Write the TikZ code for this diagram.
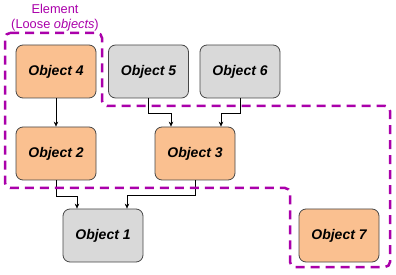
\documentclass[tikz,border=0pt]{standalone}
\usepackage{fontspec}
\setmainfont{Liberation Sans}
\usetikzlibrary{arrows.meta,calc}
\definecolor{orangefill}{RGB}{250,192,144}
\definecolor{grayfill}{RGB}{217,217,217}
\definecolor{magentaline}{RGB}{170,0,170}
\begin{document}
\begin{tikzpicture}[x=1pt,y=-1pt,
 obj/.style={draw=black!72, line width=0.8pt, rounded corners=7pt, minimum width=80pt, minimum height=53pt, font=\fontsize{14}{16}\selectfont\bfseries\itshape, inner sep=0pt},
 orangeobj/.style={obj, fill=orangefill},
 grayobj/.style={obj, fill=grayfill},
 conn/.style={draw=black, line width=0.6pt, -{Stealth[length=5pt,width=4.5pt]}},
 region/.style={draw=magentaline, line width=2.5pt, dash pattern=on 9pt off 6pt, rounded corners=5pt}]
\useasboundingbox (0,0) rectangle (396,275);
\node[orangeobj] (o4) at (56,71.5) {Object 4};
\node[grayobj] (o5) at (148.5,71.5) {Object 5};
\node[grayobj] (o6) at (240,71.5) {Object 6};
\node[orangeobj] (o2) at (56,153.5) {Object 2};
\node[orangeobj] (o3) at (195,153.5) {Object 3};
\node[grayobj] (o1) at (103,235.5) {Object 1};
\node[orangeobj] (o7) at (339,235.5) {Object 7};
\draw[conn] (o4) -- (o2);
\draw[conn] (o5.south) -- ++(0,15) -| ($(o3.north)+(-24,0)$);
\draw[conn] (o6.south) -- ++(0,15) -| ($(o3.north)+(26,0)$);
\draw[conn] (o2.south) -- ++(0,16) -| ($(o1.north)+(-26,0)$);
\draw[conn] (o3.south) -- ++(0,15) -| ($(o1.north)+(24,0)$);
\draw[region] (5,33) -- (102,33) -- (102,106) -- (390,106) -- (390,267) -- (290,267) -- (290,188) -- (5,188) -- cycle;
\node[text=magentaline, font=\fontsize{12.8}{15}\selectfont, align=center] (lbl) at (55,17.5) {Element\\(Loose \textit{objects})};
\end{tikzpicture}
\end{document}
